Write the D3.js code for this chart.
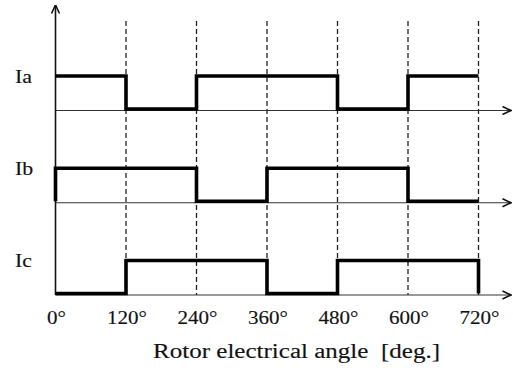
<!DOCTYPE html>
<html>
<head>
<meta charset="utf-8">
<script src="https://cdn.jsdelivr.net/npm/d3@7"></script>
<style>
  body { margin: 0; background: #fff; }
  text { font-family: "Liberation Serif", "Times New Roman", serif; fill: #111; stroke: #222; stroke-width: 0.15px; }
</style>
</head>
<body>
<div id="chart"></div>
<script>
// phase currents, step points as [angle, level]
const channels = ['Ia', 'Ib', 'Ic'];
const iaSteps = [[0, 1], [120, 0], [240, 1], [360, 1], [480, 0], [600, 1], [720, 1]];
const ibSteps = [[0, 0], [0, 1], [120, 1], [240, 0], [360, 1], [480, 1], [600, 0], [720, 0]];
const icSteps = [[0, 0], [120, 1], [240, 1], [360, 0], [480, 1], [600, 1], [720, 1], [720, 0]];
const tickAngles = [0, 120, 240, 360, 480, 600, 720];
const xTitle = 'Rotor electrical angle  [deg.]';

const width = 513;
const height = 370;

const svg = d3
  .select('#chart')
  .append('svg')
  .attr('width', width)
  .attr('height', height);

// Scales
const xScale = d3.scaleLinear().domain([0, 720]).range([55.5, 478.5]);
const rowScale = d3.scalePoint().domain(channels).range([110.5, 295]);
const levelScale = d3.scaleLinear().domain([0, 1]).range([-1.5, -34.5]);

const defs = svg.append('defs');
defs
  .append('marker')
  .attr('id', 'arrow')
  .attr('viewBox', '0 0 10 10')
  .attr('refX', 9.5)
  .attr('refY', 5)
  .attr('markerWidth', 10)
  .attr('markerHeight', 10)
  .attr('markerUnits', 'userSpaceOnUse')
  .attr('orient', 'auto')
  .append('path')
  .attr('d', 'M1,1 L9.5,5 L1,9')
  .attr('fill', 'none')
  .attr('stroke', '#111')
  .attr('stroke-width', 1.6);

// dashed guides
svg
  .append('g')
  .selectAll('line')
  .data(tickAngles.slice(1))
  .join('line')
  .attr('x1', (d) => xScale(d))
  .attr('x2', (d) => xScale(d))
  .attr('y1', 21)
  .attr('y2', rowScale('Ic'))
  .attr('stroke', '#222')
  .attr('stroke-width', 1.3)
  .attr('stroke-dasharray', '5,3');

// baselines with arrows
svg
  .append('g')
  .selectAll('line')
  .data(channels)
  .join('line')
  .attr('x1', xScale(0))
  .attr('x2', 511)
  .attr('y1', (d) => rowScale(d))
  .attr('y2', (d) => rowScale(d))
  .attr('stroke', '#333')
  .attr('stroke-width', 1.2)
  .attr('marker-end', 'url(#arrow)');

// vertical axis
svg
  .append('line')
  .attr('x1', xScale(0))
  .attr('x2', xScale(0))
  .attr('y1', rowScale('Ic'))
  .attr('y2', 5)
  .attr('stroke', '#111')
  .attr('stroke-width', 1.6)
  .attr('marker-end', 'url(#arrow)');

// waveforms
const steps = { Ia: iaSteps, Ib: ibSteps, Ic: icSteps };
const line = d3
  .line()
  .x((d) => xScale(d[0]))
  .y((d) => d[1])
  .curve(d3.curveStepAfter);

svg
  .append('g')
  .selectAll('path')
  .data(channels)
  .join('path')
  .attr('d', (c) => line(steps[c].map((p) => [p[0], rowScale(c) + levelScale(p[1])])))
  .attr('fill', 'none')
  .attr('stroke', '#000')
  .attr('stroke-width', 3.6)
  .attr('stroke-linejoin', 'miter');

// channel labels (source text is a bit wider than Times, so stretch x)
svg
  .append('g')
  .selectAll('text')
  .data(channels)
  .join('text')
  .attr('transform', (d) => `translate(15, ${rowScale(d) + levelScale(1) + 6.5}) scale(1.15, 1)`)
  .attr('font-size', 19)
  .text((d) => d);

// tick labels
svg
  .append('g')
  .selectAll('text')
  .data(tickAngles)
  .join('text')
  .attr('transform', (d) => `translate(${xScale(d) + 1}, 324) scale(1.08, 1)`)
  .attr('text-anchor', 'middle')
  .attr('font-size', 19.5)
  .text((d) => d + '°');

svg
  .append('text')
  .attr('x', 153)
  .attr('y', 358)
  .attr('font-size', 20)
  .attr('textLength', 287)
  .attr('lengthAdjust', 'spacingAndGlyphs')
  .style('white-space', 'pre')
  .text(xTitle);
</script>
</body>
</html>
